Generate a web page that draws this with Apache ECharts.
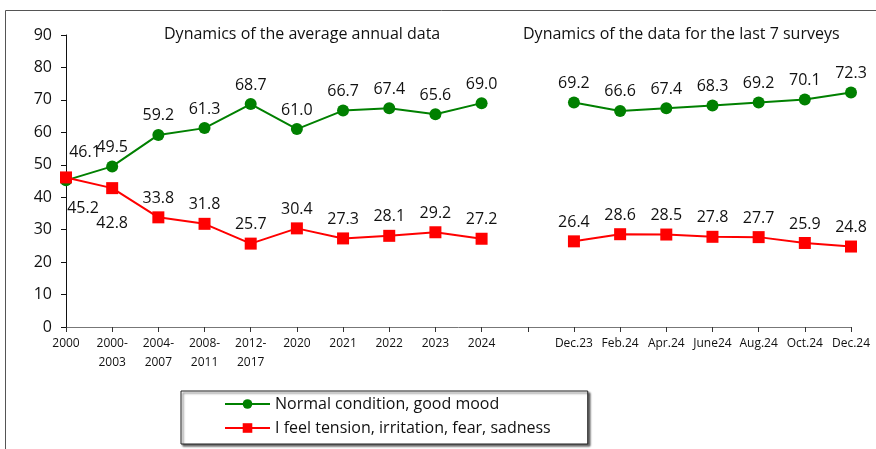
<!DOCTYPE html>
<html>
<head>
<meta charset="utf-8">
<script src="https://cdn.jsdelivr.net/npm/echarts@6/dist/echarts.min.js"></script>
<style>
  html,body{margin:0;padding:0;background:#fff;}
  #main{width:876px;height:449px;}
</style>
</head>
<body>
<div id="main"></div>
<script>
// categories: annual block, one empty slot, then last 7 surveys
const categories=['2000','2000-\n2003','2004-\n2007','2008-\n2011','2012-\n2017','2020','2021','2022','2023','2024','',
  'Dec.23','Feb.24','Apr.24','June24','Aug.24','Oct.24','Dec.24'];
const goodMood=[45.2,49.5,59.2,61.3,68.7,61.0,66.7,67.4,65.6,69.0,'-',69.2,66.6,67.4,68.3,69.2,70.1,72.3];
const tension=[46.1,42.8,33.8,31.8,25.7,30.4,27.3,28.1,29.2,27.2,'-',26.4,28.6,28.5,27.8,27.7,25.9,24.8];
const yTicks=[0,10,20,30,40,50,60,70,80,90];

const FONT='"Open Sans", "Liberation Sans", sans-serif';
let chart=echarts.init(document.getElementById('main'));

// a few labels sit elsewhere than above the point
function withLabels(values,special){
  return values.map(function(v,i){
    if(special[i]) return {value:v,label:special[i]};
    return v;
  });
}

let option={
  animation:false,
  backgroundColor:'#fff',
  graphic:[
    {type:'rect',shape:{x:5.5,y:10.5,width:900,height:500},style:{fill:'none',stroke:'#555',lineWidth:1}},
    {type:'text',left:164,top:26,style:{text:'Dynamics of the average annual data',font:'16px '+FONT,fill:'#111'}},
    {type:'text',left:523,top:26,style:{text:'Dynamics of the data for the last 7 surveys',font:'16px '+FONT,fill:'#111'}}
  ],
  grid:{
    left:66,
    right:25,
    top:35,
    bottom:122
  },
  legend:{
    orient:'vertical',
    left:181,
    top:391,
    itemWidth:45,
    itemHeight:12,
    itemGap:8,
    padding:[5,37,8,43],
    borderColor:'#222',
    borderWidth:1,
    backgroundColor:'#fff',
    shadowColor:'rgba(0,0,0,0.6)',
    shadowBlur:2,
    shadowOffsetX:2,
    shadowOffsetY:2,
    textStyle:{fontFamily:FONT,fontSize:16,color:'#111'},
    data:['Normal condition, good mood','I feel tension, irritation, fear, sadness']
  },
  xAxis:{
    type:'category',
    data:categories,
    boundaryGap:false,
    axisLine:{lineStyle:{color:'#777',width:1}},
    axisTick:{show:true,length:5,lineStyle:{color:'#333'}},
    axisLabel:{interval:0,fontFamily:FONT,fontSize:12,color:'#111',margin:7,lineHeight:19},
    splitLine:{show:false}
  },
  yAxis:{
    type:'value',
    min:yTicks[0],
    max:yTicks[yTicks.length-1],
    interval:10,
    axisLine:{show:true,lineStyle:{color:'#111'}},
    axisTick:{show:true,length:5,lineStyle:{color:'#111'}},
    axisLabel:{fontFamily:FONT,fontSize:16,color:'#111',margin:14},
    splitLine:{show:false}
  },
  series:[
    {
      name:'Normal condition, good mood',
      type:'line',
      data:withLabels(goodMood,{0:{position:'bottom',offset:[17,9]}}),
      connectNulls:false,
      symbol:'circle',
      symbolSize:12,
      itemStyle:{color:'#008000'},
      lineStyle:{color:'#008000',width:2},
      label:{show:true,position:'top',distance:5,fontFamily:FONT,fontSize:16,color:'#111',
        formatter:function(p){return p.value.toFixed(1);}}
    },
    {
      name:'I feel tension, irritation, fear, sadness',
      type:'line',
      data:withLabels(tension,{0:{position:'top',offset:[19,-6]},1:{position:'bottom',offset:[0,16]}}),
      connectNulls:false,
      symbol:'rect',
      symbolSize:12,
      itemStyle:{color:'#ff0000'},
      lineStyle:{color:'#ff0000',width:2},
      label:{show:true,position:'top',distance:5,fontFamily:FONT,fontSize:16,color:'#111',
        formatter:function(p){return p.value.toFixed(1);}}
    }
  ]
};
chart.setOption(option);
</script>
</body>
</html>
